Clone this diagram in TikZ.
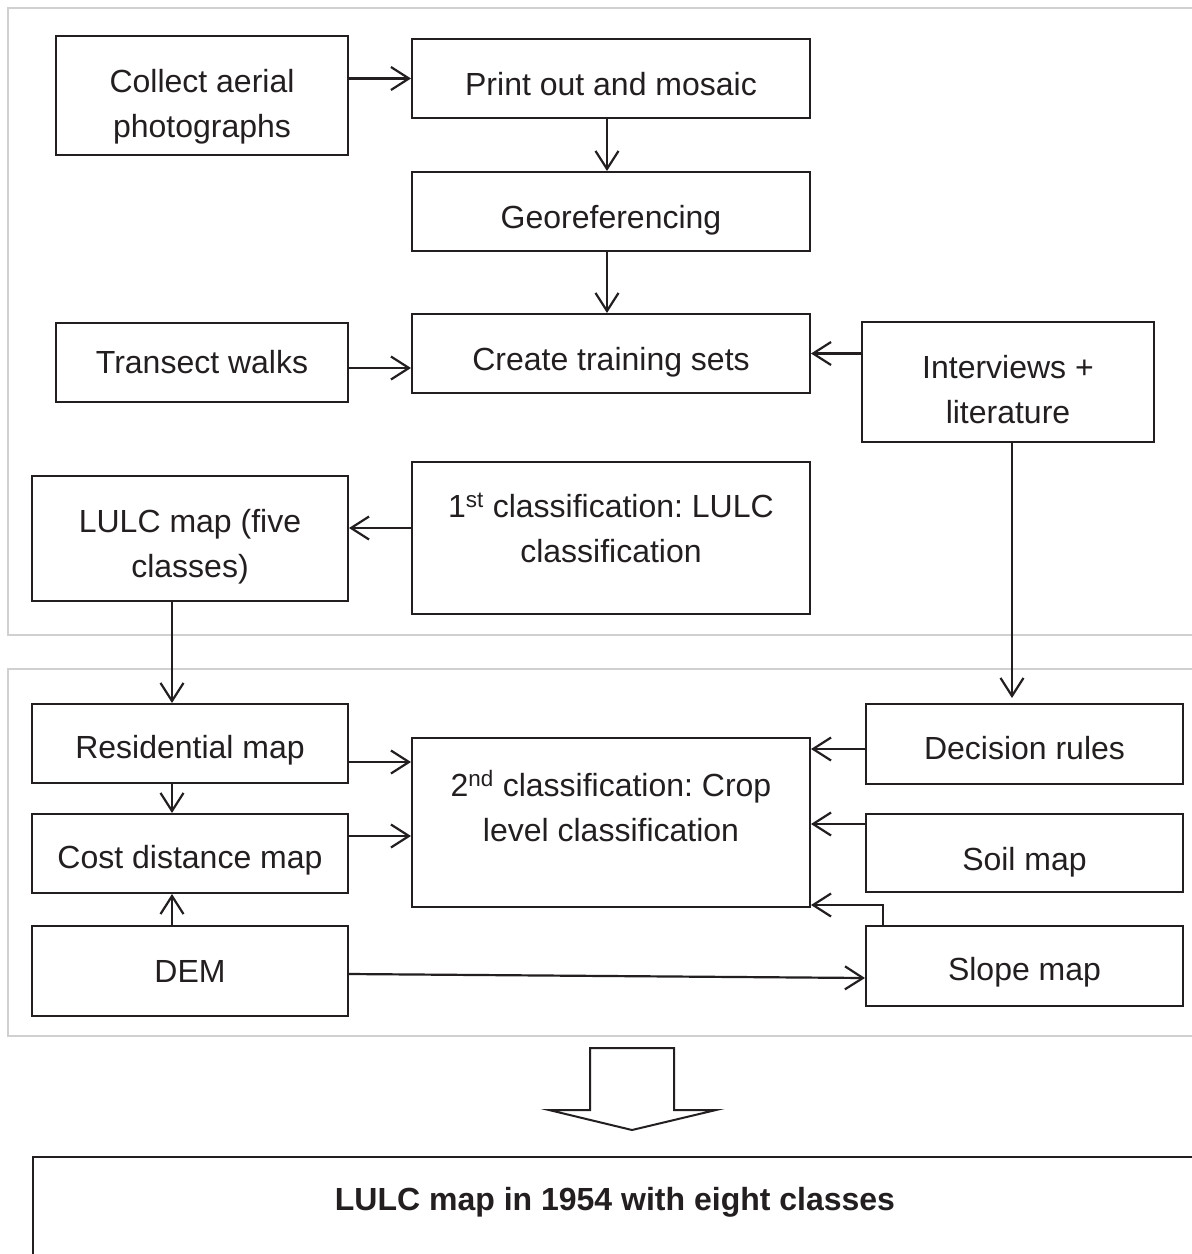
\documentclass[tikz,border=0pt]{standalone}
\usepackage{fontspec}
\setmainfont{Liberation Sans}
\usetikzlibrary{arrows.meta}
\definecolor{ink}{RGB}{35,31,32}
\definecolor{panelgray}{RGB}{208,208,208}
\frenchspacing
\begin{document}
\begin{tikzpicture}[x=1pt,y=-1pt,
  flowbox/.style={draw=ink, line width=2pt, inner sep=0pt, fill=white},
  txt/.style={text=ink, inner sep=0pt, align=center, anchor=base,
    font=\fontsize{32}{45}\selectfont},
  arr/.style={draw=ink, line width=2.2pt, -{Straight Barb[length=18pt,width=23pt,line width=2.2pt]}},
  panel/.style={draw=panelgray, line width=2.5pt}]
\clip (0,0) rectangle (1192,1254);
\fill[white] (0,0) rectangle (1192,1254);

% two grouping panels
\draw[panel] (8,8) rectangle (1210,635);
\draw[panel] (8,669) rectangle (1210,1036);

% boxes of the first stage
\node[flowbox, minimum width=292pt, minimum height=119pt] (collect) at (202,95.5) {};
\node[flowbox, minimum width=398pt, minimum height=79pt] (print) at (611,78.5) {};
\node[flowbox, minimum width=398pt, minimum height=79pt] (georef) at (611,211.5) {};
\node[flowbox, minimum width=398pt, minimum height=79pt] (training) at (611,353.5) {};
\node[flowbox, minimum width=292pt, minimum height=79pt] (transect) at (202,362.5) {};
\node[flowbox, minimum width=292pt, minimum height=120pt] (interviews) at (1008,382) {};
\node[flowbox, minimum width=316pt, minimum height=125pt] (lulcfive) at (190,538.5) {};
\node[flowbox, minimum width=398pt, minimum height=152pt] (classone) at (611,538) {};

% boxes of the second stage
\node[flowbox, minimum width=316pt, minimum height=79pt] (resid) at (190,743.5) {};
\node[flowbox, minimum width=316pt, minimum height=79pt] (cost) at (190,853.5) {};
\node[flowbox, minimum width=316pt, minimum height=90pt] (dem) at (190,971) {};
\node[flowbox, minimum width=398pt, minimum height=169pt] (classtwo) at (611,822.5) {};
\node[flowbox, minimum width=317pt, minimum height=80pt] (decision) at (1024.5,744) {};
\node[flowbox, minimum width=317pt, minimum height=78pt] (soil) at (1024.5,853) {};
\node[flowbox, minimum width=317pt, minimum height=80pt] (slope) at (1024.5,966) {};

% result box
\node[flowbox, anchor=north west, minimum width=1180pt, minimum height=120pt] (result) at (32,1156) {};

% labels (a multi-line label sits on the baseline of its last line)
\node[txt] (collectT) at (202,137) {Collect aerial\\photographs};
\node[txt] (printT) at (611,95) {Print out and mosaic};
\node[txt] (georefT) at (611,228) {Georeferencing};
\node[txt] (trainingT) at (611,370) {Create training sets};
\node[txt] (transectT) at (202,373) {Transect walks};
\node[txt] (interviewsT) at (1008,423) {Interviews +\\literature};
\node[txt] (lulcfiveT) at (190,577) {LULC map (five\\classes)};
\node[txt] (classoneT) at (611,562) {1\textsuperscript{st} classification: LULC\\classification};
\node[txt] (residT) at (190,758) {Residential map};
\node[txt] (costT) at (190,868) {Cost distance map};
\node[txt] (demT) at (190,982) {DEM};
\node[txt] (classtwoT) at (611,841) {2\textsuperscript{nd} classification: Crop\\level classification};
\node[txt] (decisionT) at (1024.5,759) {Decision rules};
\node[txt] (soilT) at (1024.5,870) {Soil map};
\node[txt] (slopeT) at (1024.5,980) {Slope map};
\node[txt, font=\fontsize{32}{45}\selectfont\bfseries] (resultT) at (615,1210) {LULC map in 1954 with eight classes};

% connectors of the first stage
\draw[arr] (collect.east |- print.west) -- (print.west);
\draw[arr] ([xshift=-4pt]print.south) coordinate (pg) -- (pg |- georef.north);
\draw[arr] ([xshift=-4pt]georef.south) coordinate (gt) -- (gt |- training.north);
\draw[arr] ([yshift=-5.5pt]transect.east) coordinate (tt) -- (training.west |- tt);
\draw[arr] (interviews.west |- training.east) -- (training.east);
\draw[arr] ([yshift=10pt]classone.west) coordinate (cl) -- (lulcfive.east |- cl);

% connectors between the stages
\draw[arr] ([xshift=-18pt]lulcfive.south) coordinate (lr) -- (lr |- resid.north);
\draw[arr, shorten >=5pt] ([xshift=4pt]interviews.south) coordinate (id) -- (id |- decision.north);

% connectors of the second stage
\draw[arr] ([yshift=-18.5pt]resid.east) coordinate (rc) -- (classtwo.west |- rc);
\draw[arr] ([yshift=17.5pt]cost.east) coordinate (cc) -- (classtwo.west |- cc);
\draw[arr] ([xshift=-18pt]resid.south) coordinate (rd) -- (rd |- cost.north);
\draw[arr] ([xshift=-18pt]dem.north) coordinate (dc) -- (dc |- cost.south);
\draw[arr] ([yshift=-5pt]decision.west) coordinate (dr) -- (classtwo.east |- dr);
\draw[arr] ([yshift=29pt]soil.west) coordinate (sm) -- (classtwo.east |- sm);
\draw[arr] ([xshift=18pt]slope.north west) |- ([yshift=3pt]classtwo.south east);
\draw[arr] ([yshift=-3pt]dem.east) -- ([yshift=-12pt]slope.west);

% hollow block arrow towards the result
\draw[draw=ink, line width=2pt, fill=white, line join=miter]
  (590,1048) -- (674,1048) -- (674,1110) -- (716,1110) -- (632,1130)
  -- (549,1110) -- (590,1110) -- cycle;
\end{tikzpicture}
\end{document}
